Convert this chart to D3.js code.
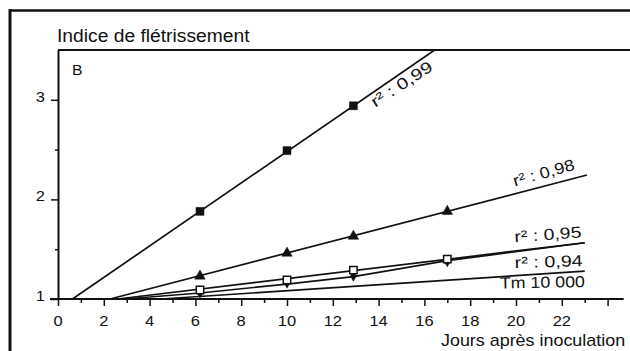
<!DOCTYPE html>
<html lang="fr">
<head>
<meta charset="utf-8">
<script src="https://d3js.org/d3.v7.min.js"></script>
<style>
  body { margin: 0; background: #fff; }
  svg { display: block; background: #fff; }
  text { font-family: 'Liberation Sans', Arial, sans-serif; fill: #111; }
  .fit { fill: none; stroke: #111; stroke-width: 1.7px; }
  .axis path, .axis line { stroke: #111; }
</style>
</head>
<body>
<div id="chart"></div>
<script>
var width = 630, height = 351;

// sampling days (jours après inoculation)
var days = [6.2, 10, 12.9, 17];

// observed wilting index per strain
var sqFilled  = [1.88, 2.49, 2.94];
var triangles = [1.23, 1.46, 1.63, 1.88];
var sqOpen    = [1.09, 1.19, 1.29, 1.40];
var dots      = [1.06, 1.16, 1.23, 1.375];

// regression lines (start / end, or points for the bent one)
var fit99X = [0.63, 16.45], fit99Y = [1, 3.5];
var fit98X = [2.27, 23.1],  fit98Y = [1, 2.245];
var fit95X = [2.6, 23.0],   fit95Y = [1, 1.565];
var fit94X = [2.9, 6.2, 10, 12.9, 17, 23.0];
var fit94Y = [1, 1.06, 1.15, 1.225, 1.385, 1.565];
var tmX = [4.5, 23.0], tmY = [1, 1.28];

var xTicks = d3.range(0, 25, 1);
var xLabels = [0, 2, 4, 6, 8, 10, 12, 14, 16, 18, 20, 22];
var yTicks = [1, 1.5, 2, 2.5, 3];
var yLabels = [1, 2, 3];

// label texts and where they sit (in data units)
var labelText = ["r² : 0,99", "r² : 0,98", "r² : 0,95", "r² : 0,94", "Tm 10 000"];
var labelDay  = [13.85, 19.95, 19.95, 19.95, 19.3];
var labelVal  = [2.92, 2.13, 1.57, 1.31, 1.105];

var x = d3.scaleLinear().domain([0, 25]).range([58, 630.5]);
var y = d3.scaleLinear().domain([1, 3.5]).range([299, 50]);

var svg = d3.select("#chart").append("svg")
  .attr("width", width)
  .attr("height", height);

// outer frame of the figure
svg.append("line").attr("x1", 10).attr("x2", 10).attr("y1", 9).attr("y2", height)
  .style("stroke", "#111").style("stroke-width", 3);
svg.append("line").attr("x1", 9).attr("x2", width).attr("y1", 10.5).attr("y2", 10.5)
  .style("stroke", "#111").style("stroke-width", 2.5);

// plot top border
svg.append("line").attr("x1", x(0)).attr("x2", width).attr("y1", y(3.5)).attr("y2", y(3.5))
  .style("stroke", "#111").style("stroke-width", 2);

// y axis
var yAx = svg.append("g").attr("class", "axis")
  .attr("transform", "translate(" + x(0) + ",0)")
  .call(d3.axisLeft(y).tickValues(yTicks).tickSizeOuter(0).tickFormat(""));
yAx.select(".domain").style("stroke-width", 2);
yAx.selectAll(".tick line")
  .attr("x2", function(d) { return d % 1 === 0 ? -7 : -3; })
  .style("stroke-width", 1.5);

// x axis
var xAx = svg.append("g").attr("class", "axis")
  .attr("transform", "translate(0," + y(1) + ")")
  .call(d3.axisBottom(x).tickValues(xTicks).tickSizeOuter(0).tickFormat(""));
xAx.select(".domain").remove();
xAx.append("line").attr("x1", x(-0.35)).attr("x2", x(24.7))
  .style("stroke", "#111").style("stroke-width", 2);
xAx.selectAll(".tick line")
  .attr("y2", function(d) { return d % 2 === 0 ? 7 : 4; })
  .style("stroke-width", 1.5);

function label(px, py, s, size, sx, anchor, rot) {
  return svg.append("text")
    .attr("transform", "translate(" + px + "," + py + ") rotate(" + (rot || 0) + ") scale(" + sx + ",1)")
    .attr("text-anchor", anchor)
    .style("font-size", size + "px")
    .text(s);
}

xLabels.forEach(function(d) { label(x(d), 326, d, 15, 1.1, "middle"); });
yLabels.forEach(function(d) { label(45, y(d) + 2, d, 15, 1.1, "end"); });

label(57, 41.5, "Indice de flétrissement", 18, 1.07, "start");
label(441, 345.5, "Jours après inoculation", 16, 1.12, "start");
label(72, 75, "B", 15, 1.05, "start");

// regression lines
var line = d3.line().x(function(d) { return x(d[0]); }).y(function(d) { return y(d[1]); });
[[fit99X, fit99Y], [fit98X, fit98Y], [fit95X, fit95Y], [fit94X, fit94Y], [tmX, tmY]]
  .forEach(function(f) {
    svg.append("path").attr("class", "fit").attr("d", line(d3.zip(f[0], f[1])));
  });

// markers
var sym = d3.symbol();
function markers(vals, type, sz, filled) {
  svg.selectAll(null).data(vals).enter().append("path")
    .attr("transform", function(d, i) { return "translate(" + x(days[i]) + "," + y(d) + ")"; })
    .attr("d", sym.type(type).size(sz)())
    .style("fill", filled ? "#111" : "#fff")
    .style("stroke", "#111")
    .style("stroke-width", filled ? 0.5 : 1.5);
}
markers(dots, d3.symbolDiamond, 30, true);
markers(sqOpen, d3.symbolSquare, 55, false);
markers(triangles, d3.symbolTriangle, 48, true);
markers(sqFilled, d3.symbolSquare, 64, true);

// r² annotations
var labelRot = [-33, -15.5, -4, -1.7, -1];
var labelLen = [70, 63, 67, 68, 85];
labelText.forEach(function(s, i) {
  label(x(labelDay[i]), y(labelVal[i]), s, 16, 1, "start", labelRot[i])
    .attr("textLength", labelLen[i])
    .attr("lengthAdjust", "spacingAndGlyphs");
});
</script>
</body>
</html>
